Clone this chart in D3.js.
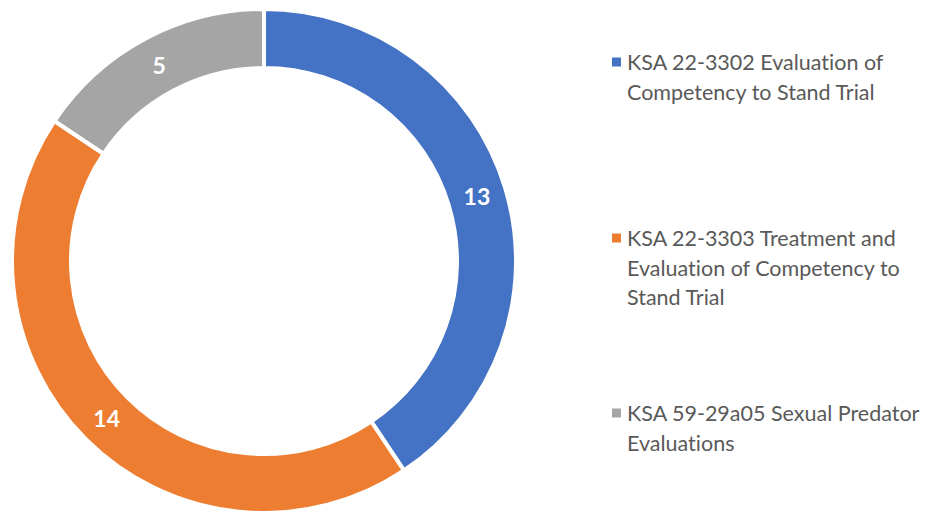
<!DOCTYPE html>
<html>
<head>
<meta charset="utf-8">
<script src="https://cdn.jsdelivr.net/npm/d3@7"></script>
<style>
  body { margin: 0; background: #fff; }
  svg { display: block; }
  text { font-variant-ligatures: none; font-feature-settings: "liga" 0, "dlig" 0; }
</style>
</head>
<body>
<div id="chart"></div>
<script>
var categories = [
    "KSA 22-3302 Evaluation of Competency to Stand Trial",
    "KSA 22-3303 Treatment and Evaluation of Competency to Stand Trial",
    "KSA 59-29a05 Sexual Predator Evaluations"
];
var values = [13, 14, 5];
var colors = ["#4472C4", "#ED7D31", "#A5A5A5"];
// legend lines as wrapped in the original
var legendLines = [
    ["KSA 22-3302 Evaluation of", "Competency to Stand Trial"],
    ["KSA 22-3303 Treatment and", "Evaluation of Competency to", "Stand Trial"],
    ["KSA 59-29a05 Sexual Predator", "Evaluations"]
];

var width = 925, height = 511;
var cx = 264, cy = 261, outerR = 252, innerR = 193;

var svg = d3.select("#chart").append("svg")
    .attr("width", width)
    .attr("height", height);

var pie = d3.pie().sort(null).value(d => d);
var arc = d3.arc().innerRadius(innerR).outerRadius(outerR);
var labelArc = d3.arc().innerRadius((innerR + outerR) / 2).outerRadius((innerR + outerR) / 2);

var g = svg.append("g").attr("transform", "translate(" + cx + "," + cy + ")");
var arcs = pie(values);

g.selectAll("path")
    .data(arcs)
    .enter()
    .append("path")
    .attr("d", arc)
    .attr("fill", (d, i) => colors[i])
    .attr("stroke", "#fff")
    .attr("stroke-width", 4)
    .attr("stroke-linejoin", "miter");

g.selectAll("text.val")
    .data(arcs)
    .enter()
    .append("text")
    .attr("class", "val")
    .attr("transform", d => "translate(" + labelArc.centroid(d) + ")")
    .attr("text-anchor", "middle")
    .attr("dominant-baseline", "central")
    .style("font-family", "Lato, 'Open Sans', sans-serif")
    .style("font-weight", "bold")
    .style("font-size", "23px")
    .attr("fill", "#fff")
    .text(d => d.data);

// legend
var legendX = 612, textX = 627, lineH = 29.5;
var itemTop = [62, 238, 413];

var leg = svg.append("g");
legendLines.forEach(function(lines, i) {
    leg.append("rect")
        .attr("x", legendX)
        .attr("y", itemTop[i] - 4.5)
        .attr("width", 9)
        .attr("height", 9)
        .attr("fill", colors[i]);
    lines.forEach(function(line, j) {
        leg.append("text")
            .attr("x", textX)
            .attr("y", itemTop[i] + j * lineH)
            .attr("dominant-baseline", "central")
            .style("font-family", "Lato, 'Open Sans', sans-serif")
            .style("font-size", "21.5px")
            .attr("fill", "#595959")
            .text(line);
    });
});
</script>
</body>
</html>
